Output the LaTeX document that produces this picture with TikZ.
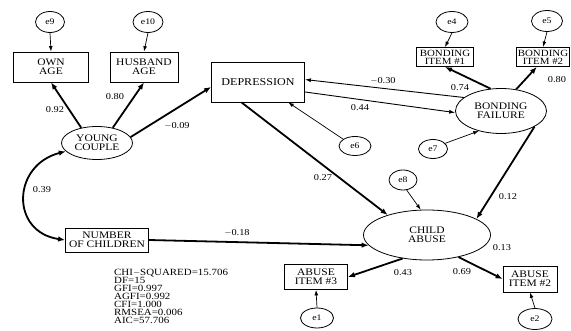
\documentclass[tikz,border=0pt]{standalone}
\usepackage{fontspec}
\setmainfont{Liberation Serif}[FakeStretch=1.15]
\usetikzlibrary{arrows.meta,shapes.geometric}
\begin{document}
\begin{tikzpicture}[x=1pt,y=-1pt,
  box/.style={draw,line width=0.8pt,rectangle,inner sep=0pt,align=center,font=\fontsize{10}{8.8}\selectfont},
  lat/.style={draw,line width=0.8pt,ellipse,inner sep=0pt,align=center,font=\fontsize{10}{8.8}\selectfont},
  err/.style={draw,line width=0.8pt,ellipse,inner sep=0pt,font=\fontsize{8.5}{8.5}\selectfont},
  lbl/.style={font=\fontsize{9}{9}\selectfont,inner sep=0pt},
  strong/.style={line width=1.8pt,-{Latex[length=7pt,width=5.5pt]}},
  medium/.style={line width=0.9pt,-{Latex[length=6pt,width=4pt]}},
  weak/.style={line width=0.7pt,-{Latex[length=5.5pt,width=3.8pt]}}
]
\fill[white] (0,0) rectangle (571,331);
\useasboundingbox (0,0) rectangle (571,331);

% error terms
\node[err,minimum width=29,minimum height=21] (e9)  at (50,22)  {e9};
\node[err,minimum width=30,minimum height=21] (e10) at (148,22) {e10};
\node[err,minimum width=32,minimum height=21] (e4)  at (452,22) {e4};
\node[err,minimum width=31,minimum height=21] (e5)  at (547,21) {e5};
\node[err,minimum width=32,minimum height=19] (e6)  at (355,146) {e6};
\node[err,minimum width=29,minimum height=19] (e7)  at (433,149) {e7};
\node[err,minimum width=28,minimum height=20] (e8)  at (403,180) {e8};
\node[err,minimum width=33,minimum height=20] (e1)  at (317,318) {e1};
\node[err,minimum width=34,minimum height=21] (e2)  at (535,319) {e2};

% observed
\node[box,minimum width=75,minimum height=30] (own)  at (51,67)  {OWN\\AGE};
\node[box,minimum width=68,minimum height=30] (husb) at (144,67) {HUSBAND\\AGE};
\node[box,minimum width=93,minimum height=40,font=\fontsize{10.5}{10}\selectfont] (dep) at (258,82) {DEPRESSION};
\node[box,minimum width=57,minimum height=19,font=\fontsize{9.5}{8}\selectfont] (bi1) at (445,57) {BONDING\\ITEM \#1};
\node[box,minimum width=53,minimum height=19,font=\fontsize{9.5}{8}\selectfont] (bi2) at (543,57) {BONDING\\ITEM \#2};
\node[box,minimum width=83,minimum height=24] (noc) at (107,240) {NUMBER\\OF CHILDREN};
\node[box,minimum width=63,minimum height=25] (ai3) at (316,277) {ABUSE\\ITEM \#3};
\node[box,minimum width=54,minimum height=26] (ai2) at (530,279) {ABUSE\\ITEM \#2};

% latent
\node[lat,minimum width=71,minimum height=33] (young) at (97,143) {YOUNG\\COUPLE};
\node[lat,minimum width=91,minimum height=45] (bond)  at (501,111) {BONDING\\FAILURE};
\node[lat,minimum width=127,minimum height=50] (child) at (427,235) {CHILD\\ABUSE};

% error arrows
\draw[weak] (e9.south) -- (own.north);
\draw[weak] (e10.south) -- (husb.north);
\draw[weak] (e4.south) -- (bi1.north);
\draw[weak] (e5.south) -- (bi2.north);
\draw[weak] (e1.north) -- (ai3.south);
\draw[weak] (e2.north) -- (ai2.south);
\draw[weak] (e6.150) -- (dep.326);
\draw[weak] (e7.25) -- (bond.222);
\draw[weak] (e8.290) -- (child.104);

% structural paths
\draw[strong] (young.136) -- (own.south);
\draw[strong] (young.44) -- (husb.south);
\draw[strong] (young.10) -- (dep.186);
\draw[strong,{Latex[length=7pt,width=5.5pt]}-{Latex[length=7pt,width=5.5pt]}] (young.195) .. controls (12,165) and (10,232) .. (noc.west);
\draw[strong] (noc.east) -- (child.190);
\draw[strong] (dep.231) -- (child.153);
\draw[medium] (bond.160) -- (dep.3);
\draw[medium] (dep.348) -- (bond.182);
\draw[strong] (bond.115) -- (bi1.south);
\draw[strong] (bond.55) -- (bi2.238);
\draw[strong] (bond.335) -- (child.18);
\draw[strong] (child.224) -- (ai3.east);
\draw[strong] (child.325) -- (ai2.west);

% coefficients
\node[lbl] (l1) at (55,110) {0.92};
\node[lbl] (l2) at (115,97) {0.80};
\node[lbl] (l3) at (177,126) {$-$0.09};
\node[lbl] (l4) at (42,190) {0.39};
\node[lbl] (l5) at (237,233) {$-$0.18};
\node[lbl] (l6) at (323,178) {0.27};
\node[lbl] (l7) at (383,81) {$-$0.30};
\node[lbl] (l8) at (360,108) {0.44};
\node[lbl] (l9) at (460,88) {0.74};
\node[lbl] (l10) at (557,80) {0.80};
\node[lbl] (l11) at (508,197) {0.12};
\node[lbl] (l12) at (502,248) {0.13};
\node[lbl] (l13) at (403,273) {0.43};
\node[lbl] (l14) at (462,272) {0.69};

% fit statistics
\node[anchor=north west,inner sep=0pt,align=left,font=\fontsize{9.5}{8}\selectfont] (fit) at (114,269)
 {CHI$-$SQUARED=15.706\\DF=15\\GFI=0.997\\AGFI=0.992\\CFI=1.000\\RMSEA=0.006\\AIC=57.706};
\end{tikzpicture}
\end{document}
